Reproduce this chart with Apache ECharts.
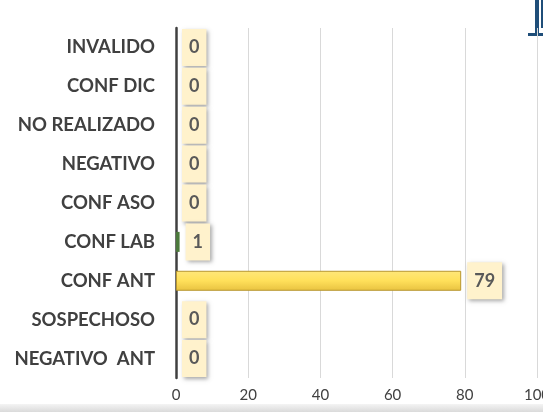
<!DOCTYPE html>
<html>
<head>
<meta charset="utf-8">
<script src="https://cdn.jsdelivr.net/npm/echarts@6/dist/echarts.min.js"></script>
<style>
  html, body { margin: 0; padding: 0; background: #fff; }
  #chart { width: 543px; height: 412px; }
</style>
</head>
<body>
<div id="chart"></div>
<script>
// categories top to bottom
const categories = ['INVALIDO', 'CONF DIC', 'NO REALIZADO', 'NEGATIVO', 'CONF ASO', 'CONF LAB', 'CONF ANT', 'SOSPECHOSO', 'NEGATIVO  ANT']
const values = [0, 0, 0, 0, 0, 1, 79, 0, 0]
const xTicks = [0, 20, 40, 60, 80, 100]

const font = 'Lato, "Open Sans", sans-serif'
const yellow = {
  type: 'linear', x: 0, y: 0, x2: 0, y2: 1,
  colorStops: [
    { offset: 0, color: '#FFE77A' },
    { offset: 0.5, color: '#FFE05A' },
    { offset: 1, color: '#E8C240' }
  ]
}

const chart = echarts.init(document.getElementById('chart'))
chart.setOption({
  animation: false,
  grid: { left: 176, right: 6, top: 28, bottom: 34, containLabel: false, outerBoundsMode: 'none' },
  xAxis: {
    type: 'value',
    min: xTicks[0],
    max: xTicks[xTicks.length - 1],
    interval: 20,
    axisLine: { show: false },
    axisTick: { show: false },
    splitLine: { lineStyle: { color: '#D9D9D9', width: 1 } },
    axisLabel: { color: '#404040', fontSize: 15, fontFamily: font, margin: 10, hideOverlap: false }
  },
  yAxis: {
    type: 'category',
    inverse: true,
    data: categories,
    axisLine: { lineStyle: { color: '#404040', width: 2.5 } },
    axisTick: { length: 5, lineStyle: { color: '#404040', width: 2.5 } },
    axisLabel: { color: '#404040', fontSize: 18.5, fontWeight: 'bold', fontFamily: font, margin: 21 }
  },
  series: [{
    type: 'bar',
    barWidth: 20,
    data: values.map((v, i) => ({
      value: v,
      itemStyle: v >= 50
        ? { color: yellow, borderColor: '#B8962E', borderWidth: 1 }
        : { color: '#4C7A3C' }
    })),
    label: {
      show: true,
      position: 'right',
      distance: 6,
      color: '#595959',
      fontSize: 18,
      fontWeight: 'bold',
      fontFamily: font,
      backgroundColor: '#FFF2CC',
      padding: [10, 7, 9, 7],
      shadowColor: 'rgba(0,0,0,0.35)',
      shadowBlur: 4,
      shadowOffsetX: 2,
      shadowOffsetY: 2
    }
  }],
  graphic: [
    { type: 'rect', left: 0, top: 404, shape: { width: 543, height: 8 },
      style: { fill: { type: 'linear', x: 0, y: 0, x2: 0, y2: 1,
        colorStops: [{ offset: 0, color: '#F4F4F4' }, { offset: 1, color: '#DADADA' }] } } },
    { type: 'rect', left: 535, top: 0, shape: { width: 4, height: 36 }, style: { fill: '#1F4E79' } },
    { type: 'rect', left: 528, top: 33, shape: { width: 15, height: 3 }, style: { fill: '#1F4E79' } },
    { type: 'rect', left: 541, top: 0, shape: { width: 2, height: 28 }, style: { fill: '#1F4E79' } }
  ]
})
</script>
</body>
</html>
